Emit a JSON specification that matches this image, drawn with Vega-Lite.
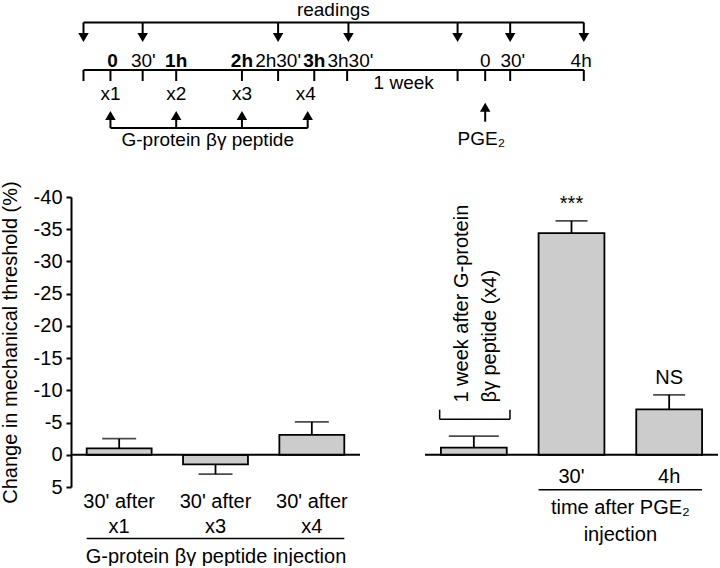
{
  "$schema": "https://vega.github.io/schema/vega-lite/v6.json",
  "padding": 0,
  "background": "white",
  "config": {"view": {"stroke": null}, "font": "Liberation Sans"},
  "datasets": {
    "segments": [
      {"t1": -0.41, "t2": 7.2, "lv1": 2.25, "lv2": 2.25},
      {"t1": -0.41, "t2": -0.41, "lv1": 2.25, "lv2": 3.8},
      {"t1": 0.49, "t2": 0.49, "lv1": 2.25, "lv2": 3.8},
      {"t1": 2.55, "t2": 2.55, "lv1": 2.25, "lv2": 3.8},
      {"t1": 3.62, "t2": 3.62, "lv1": 2.25, "lv2": 3.8},
      {"t1": 5.28, "t2": 5.28, "lv1": 2.25, "lv2": 3.8},
      {"t1": 6.08, "t2": 6.08, "lv1": 2.25, "lv2": 3.8},
      {"t1": 7.2, "t2": 7.2, "lv1": 2.25, "lv2": 3.8},
      {"t1": -0.41, "t2": 7.2, "lv1": 7, "lv2": 7},
      {"t1": -0.41, "t2": -0.41, "lv1": 7, "lv2": 8.1},
      {"t1": 0, "t2": 0, "lv1": 7, "lv2": 8.1},
      {"t1": 0.49, "t2": 0.49, "lv1": 7, "lv2": 8.1},
      {"t1": 1, "t2": 1, "lv1": 7, "lv2": 8.1},
      {"t1": 2, "t2": 2, "lv1": 7, "lv2": 8.1},
      {"t1": 2.55, "t2": 2.55, "lv1": 7, "lv2": 8.1},
      {"t1": 3.1, "t2": 3.1, "lv1": 7, "lv2": 8.1},
      {"t1": 3.6, "t2": 3.6, "lv1": 7, "lv2": 8.1},
      {"t1": 5.28, "t2": 5.28, "lv1": 7, "lv2": 8.1},
      {"t1": 5.7, "t2": 5.7, "lv1": 7, "lv2": 8.1},
      {"t1": 6.08, "t2": 6.08, "lv1": 7, "lv2": 8.1},
      {"t1": 7.2, "t2": 7.2, "lv1": 7, "lv2": 8.1},
      {"t1": 0, "t2": 0, "lv1": 11.5, "lv2": 12.8},
      {"t1": 1, "t2": 1, "lv1": 11.5, "lv2": 12.8},
      {"t1": 2, "t2": 2, "lv1": 11.5, "lv2": 12.8},
      {"t1": 3, "t2": 3, "lv1": 11.5, "lv2": 12.8},
      {"t1": 0, "t2": 3, "lv1": 12.8, "lv2": 12.8},
      {"t1": 5.7, "t2": 5.7, "lv1": 10.67, "lv2": 12.17}
    ],
    "heads": [
      {"t": -0.41, "lv": 3.75, "dir": "down"},
      {"t": 0.49, "lv": 3.75, "dir": "down"},
      {"t": 2.55, "lv": 3.75, "dir": "down"},
      {"t": 3.62, "lv": 3.75, "dir": "down"},
      {"t": 5.28, "lv": 3.75, "dir": "down"},
      {"t": 6.08, "lv": 3.75, "dir": "down"},
      {"t": 7.2, "lv": 3.75, "dir": "down"},
      {"t": 0, "lv": 11.55, "dir": "up"},
      {"t": 1, "lv": 11.55, "dir": "up"},
      {"t": 2, "lv": 11.55, "dir": "up"},
      {"t": 3, "lv": 11.55, "dir": "up"},
      {"t": 5.7, "lv": 10.72, "dir": "up"}
    ],
    "dlabels": [
      {"t": 3.39, "lv": 1.0, "label": "readings", "bold": false},
      {"t": 0.03, "lv": 6.05, "label": "0", "bold": true},
      {"t": 0.5, "lv": 6.05, "label": "30'", "bold": false},
      {"t": 1.0, "lv": 6.05, "label": "1h", "bold": true},
      {"t": 2.0, "lv": 6.05, "label": "2h", "bold": true},
      {"t": 2.55, "lv": 6.05, "label": "2h30'", "bold": false},
      {"t": 3.1, "lv": 6.05, "label": "3h", "bold": true},
      {"t": 3.65, "lv": 6.05, "label": "3h30'", "bold": false},
      {"t": 5.7, "lv": 6.05, "label": "0", "bold": false},
      {"t": 6.12, "lv": 6.05, "label": "30'", "bold": false},
      {"t": 7.16, "lv": 6.05, "label": "4h", "bold": false},
      {"t": 0, "lv": 9.4, "label": "x1", "bold": false},
      {"t": 1, "lv": 9.4, "label": "x2", "bold": false},
      {"t": 2, "lv": 9.4, "label": "x3", "bold": false},
      {"t": 2.97, "lv": 9.4, "label": "x4", "bold": false},
      {"t": 4.46, "lv": 8.33, "label": "1 week", "bold": false},
      {"t": 1.48, "lv": 14.0, "label": "G-protein βγ peptide", "bold": false},
      {"t": 5.64, "lv": 13.9, "label": "PGE₂", "bold": false}
    ],
    "left": [
      {"cat": "30' after|x1", "mean": -1.0, "err": -2.5},
      {"cat": "30' after|x3", "mean": 1.5, "err": 3.0},
      {"cat": "30' after|x4", "mean": -3.1, "err": -5.1}
    ],
    "right": [
      {"cat": "1 week after G-protein βγ peptide (x4)", "mean": -1.1, "err": -2.9, "label": "", "sig": ""},
      {"cat": "30'", "mean": -34.4, "err": -36.3, "label": "30'", "sig": "***"},
      {"cat": "4h", "mean": -7.05, "err": -9.3, "label": "4h", "sig": "NS"}
    ]
  },
  "vconcat": [
    {
      "width": 649,
      "height": 160,
      "layer": [
        {
          "data": {"name": "segments"},
          "mark": {"type": "rule", "color": "black", "strokeWidth": 2},
          "encoding": {
            "x": {"field": "t1", "type": "quantitative", "scale": {"domain": [-0.6, 9.2714], "nice": false, "zero": false}, "axis": null},
            "x2": {"field": "t2"},
            "y": {"field": "lv1", "type": "quantitative", "scale": {"domain": [0, 16], "reverse": true, "nice": false}, "axis": null},
            "y2": {"field": "lv2"}
          }
        },
        {
          "data": {"name": "heads"},
          "transform": [{"filter": "datum.dir == 'down'"}],
          "mark": {"type": "point", "shape": "triangle-down", "filled": true, "size": 110, "color": "black", "opacity": 1},
          "encoding": {
            "x": {"field": "t", "type": "quantitative", "axis": null},
            "y": {"field": "lv", "type": "quantitative", "axis": null}
          }
        },
        {
          "data": {"name": "heads"},
          "transform": [{"filter": "datum.dir == 'up'"}],
          "mark": {"type": "point", "shape": "triangle-up", "filled": true, "size": 110, "color": "black", "opacity": 1},
          "encoding": {
            "x": {"field": "t", "type": "quantitative", "axis": null},
            "y": {"field": "lv", "type": "quantitative", "axis": null}
          }
        },
        {
          "data": {"name": "dlabels"},
          "transform": [{"filter": "datum.bold == false"}],
          "mark": {"type": "text", "font": "Liberation Sans", "fontSize": 19, "baseline": "middle", "align": "center", "color": "black"},
          "encoding": {
            "x": {"field": "t", "type": "quantitative", "axis": null},
            "y": {"field": "lv", "type": "quantitative", "axis": null},
            "text": {"field": "label", "type": "nominal"}
          }
        },
        {
          "data": {"name": "dlabels"},
          "transform": [{"filter": "datum.bold == true"}],
          "mark": {"type": "text", "font": "Liberation Sans", "fontSize": 19, "fontWeight": "bold", "baseline": "middle", "align": "center", "color": "black"},
          "encoding": {
            "x": {"field": "t", "type": "quantitative", "axis": null},
            "y": {"field": "lv", "type": "quantitative", "axis": null},
            "text": {"field": "label", "type": "nominal"}
          }
        }
      ]
    },
    {
      "hconcat": [
        {
          "width": 289,
          "height": 290,
          "resolve": {"scale": {"x": "independent"}},
          "layer": [
            {
              "layer": [
                {
                  "data": {"name": "left"},
                  "mark": {"type": "bar", "fill": "#cccccc", "stroke": "black", "strokeWidth": 1.8},
                  "encoding": {
                    "x": {
                      "field": "cat", "type": "nominal", "sort": null,
                      "scale": {"paddingInner": 0.326, "paddingOuter": 0.163},
                      "axis": {
                        "title": "G-protein βγ peptide injection",
                        "labelExpr": "split(datum.label, '|')",
                        "labelAngle": 0,
                        "labelFont": "Liberation Sans",
                        "labelFontSize": 20,
                        "labelLineHeight": 25,
                        "labelPadding": 4,
                        "labelColor": "black",
                        "domain": false,
                        "ticks": false,
                        "titleFont": "Liberation Sans",
                        "titleFontSize": 20,
                        "titleFontWeight": "normal",
                        "titleColor": "black",
                        "titlePadding": 10
                      }
                    },
                    "y": {
                      "field": "mean", "type": "quantitative",
                      "scale": {"domain": [-40, 5], "reverse": true, "nice": false},
                      "axis": {
                        "title": "Change in mechanical threshold (%)",
                        "values": [-40, -35, -30, -25, -20, -15, -10, -5, 0, 5],
                        "tickCount": 10,
                        "labelExpr": "toString(datum.value)",
                        "labelOverlap": false,
                        "grid": false,
                        "domainColor": "black",
                        "domainWidth": 2,
                        "tickColor": "black",
                        "tickWidth": 2,
                        "tickSize": 5,
                        "labelFont": "Liberation Sans",
                        "labelFontSize": 20,
                        "labelColor": "black",
                        "labelPadding": 4,
                        "titleFont": "Liberation Sans",
                        "titleFontSize": 20,
                        "titleFontWeight": "normal",
                        "titleColor": "black",
                        "titlePadding": 13
                      }
                    }
                  }
                },
                {
                  "data": {"name": "left"},
                  "mark": {"type": "rule", "color": "black", "strokeWidth": 1.8},
                  "encoding": {
                    "x": {"field": "cat", "type": "nominal", "sort": null},
                    "y": {"field": "mean", "type": "quantitative"},
                    "y2": {"field": "err"}
                  }
                },
                {
                  "data": {"name": "left"},
                  "mark": {"type": "tick", "color": "black", "thickness": 1.8, "size": 34},
                  "encoding": {
                    "x": {"field": "cat", "type": "nominal", "sort": null},
                    "y": {"field": "err", "type": "quantitative"}
                  }
                },
                {
                  "data": {"name": "left"},
                  "transform": [{"filter": "datum.cat == '30\\' after|x1'"}],
                  "mark": {"type": "rule", "color": "black", "strokeWidth": 2},
                  "encoding": {"y": {"datum": 0, "type": "quantitative"}}
                }
              ]
            },
            {
              "data": {"name": "left"},
              "transform": [{"filter": "datum.cat == '30\\' after|x1'"}],
              "mark": {"type": "rule", "color": "black", "strokeWidth": 1.5},
              "encoding": {
                "x": {"datum": -0.337, "type": "quantitative", "scale": {"domain": [-0.5, 2.5], "nice": false, "zero": false}, "axis": null},
                "x2": {"datum": 2.337},
                "y": {"datum": 13, "type": "quantitative"}
              }
            }
          ]
        },
        {
          "width": 293,
          "height": 290,
          "resolve": {"scale": {"x": "independent"}},
          "layer": [
            {
              "layer": [
                {
                  "data": {"name": "right"},
                  "mark": {"type": "bar", "fill": "#cccccc", "stroke": "black", "strokeWidth": 1.8},
                  "encoding": {
                    "x": {"field": "cat", "type": "nominal", "sort": null, "scale": {"paddingInner": 0.326, "paddingOuter": 0.163}, "axis": null},
                    "y": {"field": "mean", "type": "quantitative", "scale": {"domain": [-40, 5], "reverse": true, "nice": false}, "axis": null}
                  }
                },
                {
                  "data": {"name": "right"},
                  "mark": {"type": "rule", "color": "black", "strokeWidth": 1.8},
                  "encoding": {
                    "x": {"field": "cat", "type": "nominal", "sort": null},
                    "y": {"field": "mean", "type": "quantitative"},
                    "y2": {"field": "err"}
                  }
                },
                {
                  "data": {"name": "right"},
                  "transform": [{"filter": "datum.label != ''"}],
                  "mark": {"type": "tick", "color": "black", "thickness": 1.8, "size": 32},
                  "encoding": {
                    "x": {"field": "cat", "type": "nominal", "sort": null},
                    "y": {"field": "err", "type": "quantitative"}
                  }
                },
                {
                  "data": {"name": "right"},
                  "transform": [{"filter": "datum.label == ''"}],
                  "mark": {"type": "tick", "color": "black", "thickness": 1.8, "size": 50},
                  "encoding": {
                    "x": {"field": "cat", "type": "nominal", "sort": null},
                    "y": {"field": "err", "type": "quantitative"}
                  }
                },
                {
                  "data": {"name": "right"},
                  "transform": [{"filter": "datum.cat == '4h'"}],
                  "mark": {"type": "rule", "color": "black", "strokeWidth": 2},
                  "encoding": {"y": {"datum": 0, "type": "quantitative"}}
                },
                {
                  "data": {"name": "right"},
                  "mark": {"type": "text", "font": "Liberation Sans", "fontSize": 20, "baseline": "alphabetic", "align": "center", "dy": -10.8, "color": "black"},
                  "encoding": {
                    "x": {"field": "cat", "type": "nominal", "sort": null},
                    "y": {"field": "err", "type": "quantitative"},
                    "text": {"field": "sig", "type": "nominal"}
                  }
                },
                {
                  "data": {"name": "right"},
                  "mark": {"type": "text", "font": "Liberation Sans", "fontSize": 20, "baseline": "middle", "align": "center", "color": "black"},
                  "encoding": {
                    "x": {"field": "cat", "type": "nominal", "sort": null},
                    "y": {"datum": 3.4, "type": "quantitative"},
                    "text": {"field": "label", "type": "nominal"}
                  }
                }
              ]
            },
            {
              "transform": [{"filter": "datum.cat == '4h'"}],
              "data": {"name": "right"},
              "layer": [
                {
                  "mark": {"type": "rule", "color": "black", "strokeWidth": 1.5},
                  "encoding": {
                    "x": {"datum": 0.663, "type": "quantitative", "scale": {"domain": [-0.5, 2.5], "nice": false, "zero": false}, "axis": null},
                    "x2": {"datum": 2.337},
                    "y": {"datum": 5.43, "type": "quantitative"}
                  }
                },
                {
                  "mark": {"type": "text", "font": "Liberation Sans", "fontSize": 20, "baseline": "middle", "align": "center", "color": "black", "text": "time after PGE₂"},
                  "encoding": {
                    "x": {"datum": 1.5, "type": "quantitative"},
                    "y": {"datum": 8.2, "type": "quantitative"}
                  }
                },
                {
                  "mark": {"type": "text", "font": "Liberation Sans", "fontSize": 20, "baseline": "middle", "align": "center", "color": "black", "text": "injection"},
                  "encoding": {
                    "x": {"datum": 1.5, "type": "quantitative"},
                    "y": {"datum": 12.5, "type": "quantitative"}
                  }
                },
                {
                  "mark": {"type": "rule", "color": "black", "strokeWidth": 1.5},
                  "encoding": {
                    "x": {"datum": -0.35, "type": "quantitative"},
                    "x2": {"datum": 0.37},
                    "y": {"datum": -5.5, "type": "quantitative"}
                  }
                },
                {
                  "mark": {"type": "rule", "color": "black", "strokeWidth": 1.5},
                  "encoding": {
                    "x": {"datum": -0.35, "type": "quantitative"},
                    "y": {"datum": -5.5, "type": "quantitative"},
                    "y2": {"datum": -7.0}
                  }
                },
                {
                  "mark": {"type": "rule", "color": "black", "strokeWidth": 1.5},
                  "encoding": {
                    "x": {"datum": 0.37, "type": "quantitative"},
                    "y": {"datum": -5.5, "type": "quantitative"},
                    "y2": {"datum": -7.0}
                  }
                },
                {
                  "mark": {"type": "text", "font": "Liberation Sans", "fontSize": 20, "baseline": "middle", "align": "left", "angle": 270, "color": "black", "text": "1 week after G-protein"},
                  "encoding": {
                    "x": {"datum": -0.118, "type": "quantitative"},
                    "y": {"datum": -8.1, "type": "quantitative"}
                  }
                },
                {
                  "mark": {"type": "text", "font": "Liberation Sans", "fontSize": 20, "baseline": "middle", "align": "left", "angle": 270, "color": "black", "text": "βγ peptide (x4)"},
                  "encoding": {
                    "x": {"datum": 0.169, "type": "quantitative"},
                    "y": {"datum": -8.1, "type": "quantitative"}
                  }
                }
              ]
            }
          ]
        }
      ],
      "spacing": 65,
      "bounds": "flush"
    }
  ]
}
